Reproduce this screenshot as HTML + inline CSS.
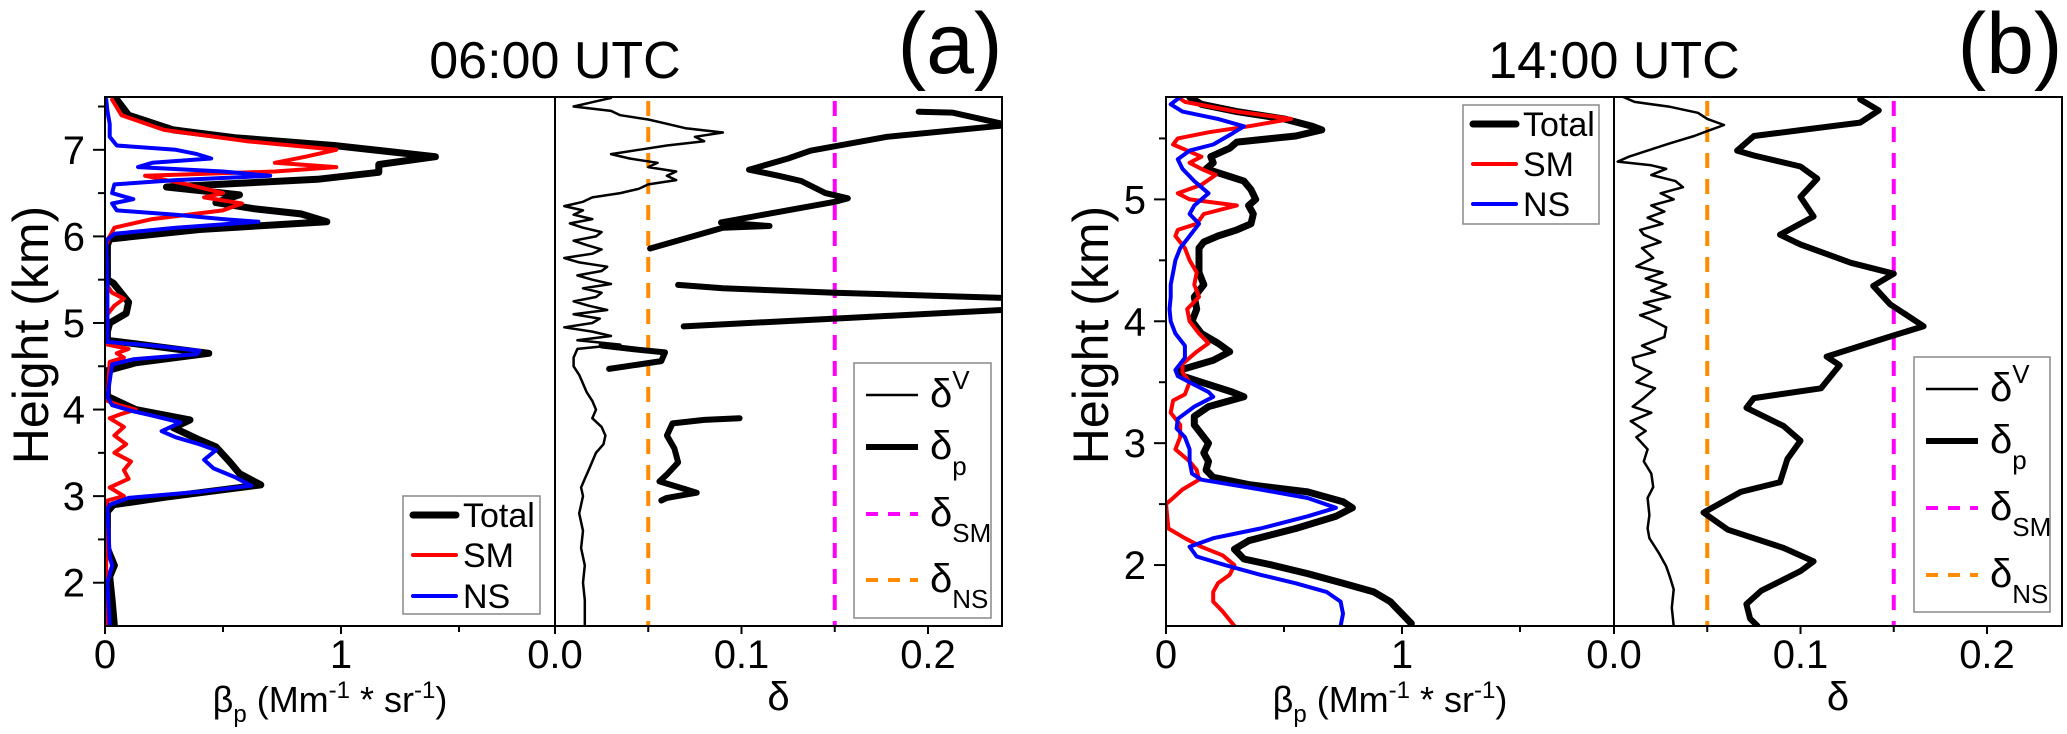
<!DOCTYPE html>
<html><head><meta charset="utf-8"><style>
html,body{margin:0;padding:0;background:#fff;}
svg{display:block;font-family:"Liberation Sans",Arial,sans-serif;}
</style></head><body>
<svg id="chart" width="2067" height="734" viewBox="0 0 2067 734" xmlns="http://www.w3.org/2000/svg"></svg>
<script>
// ---------- DATA (height km, value) ----------
const aTotalH=[7.58,7.4,7.23,7.14,7.05,6.92,6.83,6.74,6.66,6.57,6.48,6.39,6.32,6.26,6.17,6.08,5.97,5.9,5.7,5.5,5.46,5.24,5.11,5.0,4.9,4.8,4.76,4.65,4.54,4.45,4.3,4.15,4.14,4.0,3.88,3.79,3.65,3.57,3.39,3.26,3.13,2.99,2.9,2.82,2.6,2.4,2.33,2.2,2.07,1.8,1.5];
const aTotalV=[0.05,0.1,0.29,0.55,0.97,1.40,1.16,1.16,0.90,0.26,0.57,0.47,0.63,0.83,0.94,0.40,0.02,0.01,0.01,0.01,0.035,0.10,0.09,0.02,0.01,0.01,0.13,0.44,0.13,0.01,0.01,0.01,0.02,0.13,0.36,0.29,0.40,0.47,0.53,0.57,0.66,0.26,0.035,0.01,0.01,0.01,0.02,0.04,0.02,0.03,0.04];
const aSMH=[7.58,7.4,7.23,7.1,7.0,6.92,6.85,6.8,6.75,6.7,6.6,6.5,6.45,6.38,6.3,6.2,6.1,6.0,5.9,5.45,5.35,5.28,5.2,5.1,4.75,4.7,4.65,4.6,4.55,4.1,4.05,4.0,3.95,3.9,3.8,3.7,3.6,3.5,3.4,3.3,3.2,3.1,3.0,2.95,2.2,1.5];
const aSMV=[0.03,0.07,0.25,0.6,0.98,0.85,0.72,0.98,0.72,0.17,0.35,0.5,0.42,0.58,0.5,0.2,0.04,0.02,0.005,0.005,0.03,0.08,0.04,0.01,0.01,0.1,0.05,0.08,0.02,0.01,0.06,0.13,0.07,0.02,0.08,0.04,0.09,0.04,0.11,0.08,0.10,0.02,0.08,0.01,0.005,0.005];
const aNSH=[7.58,7.45,7.3,7.15,7.05,7.0,6.95,6.9,6.85,6.8,6.75,6.7,6.65,6.6,6.5,6.43,6.38,6.3,6.25,6.2,6.17,6.1,6.03,5.95,5.45,4.78,4.74,4.68,4.64,4.58,4.52,4.15,4.05,3.98,3.93,3.85,3.75,3.68,3.6,3.53,3.42,3.32,3.22,3.12,3.05,2.98,2.9,2.85,2.3,2.2,2.0,1.5];
const aNSV=[0.005,0.01,0.02,0.02,0.05,0.3,0.39,0.45,0.2,0.14,0.5,0.7,0.3,0.04,0.03,0.12,0.03,0.05,0.3,0.5,0.65,0.3,0.04,0.005,0.01,0.01,0.2,0.4,0.39,0.12,0.03,0.01,0.03,0.12,0.2,0.32,0.24,0.3,0.4,0.47,0.42,0.46,0.55,0.62,0.4,0.1,0.02,0.01,0.02,0.03,0.01,0.02];
const aDVH=[7.6,7.55,7.5,7.45,7.4,7.35,7.3,7.25,7.2,7.15,7.1,7.05,7.0,6.95,6.9,6.85,6.8,6.75,6.7,6.65,6.6,6.55,6.5,6.45,6.4,6.35,6.3,6.25,6.2,6.15,6.1,6.05,6.0,5.95,5.9,5.85,5.8,5.75,5.7,5.65,5.6,5.55,5.5,5.45,5.4,5.35,5.3,5.25,5.2,5.15,5.1,5.05,5.0,4.95,4.9,4.85,4.8,4.75,4.7,4.6,4.5,4.4,4.3,4.2,4.1,4.0,3.9,3.8,3.7,3.6,3.5,3.4,3.3,3.2,3.1,3.0,2.8,2.6,2.4,2.2,2.0,1.8,1.5];
const aDVV=[0.03,0.02,0.01,0.03,0.035,0.05,0.06,0.07,0.09,0.075,0.08,0.06,0.045,0.03,0.04,0.055,0.05,0.065,0.06,0.065,0.05,0.045,0.035,0.02,0.015,0.005,0.015,0.01,0.02,0.008,0.015,0.025,0.022,0.01,0.017,0.025,0.02,0.005,0.013,0.028,0.025,0.012,0.02,0.03,0.015,0.025,0.022,0.01,0.018,0.028,0.01,0.024,0.02,0.005,0.02,0.03,0.012,0.035,0.012,0.01,0.01,0.013,0.015,0.017,0.02,0.022,0.02,0.025,0.027,0.026,0.022,0.02,0.018,0.016,0.014,0.015,0.013,0.015,0.014,0.016,0.015,0.016,0.016];
const aDP1H=[7.44,7.43,7.3,7.28,7.15,6.99,6.9,6.77,6.7,6.64,6.5,6.44,6.40,6.26,6.16,6.12,6.1,5.86];
const aDP1V=[0.195,0.213,0.24,0.24,0.178,0.137,0.125,0.104,0.12,0.132,0.145,0.157,0.15,0.114,0.089,0.115,0.09,0.051];
const aDP2H=[5.44,5.40,5.35,5.29];
const aDP2V=[0.066,0.09,0.15,0.24];
const aDP3H=[5.15,5.05,4.96];
const aDP3V=[0.24,0.15,0.069];
const aDP4H=[4.47,4.56,4.66,4.69,4.74];
const aDP4V=[0.029,0.057,0.059,0.045,0.025];
const aDP5H=[3.90,3.88,3.84,3.70,3.55,3.39,3.25,3.17,3.08,3.04,2.98,2.95];
const aDP5V=[0.099,0.08,0.063,0.060,0.064,0.066,0.06,0.056,0.07,0.076,0.06,0.057];

const bTotalH=[5.84,5.78,5.72,5.66,5.6,5.57,5.52,5.47,5.42,5.35,5.3,5.25,5.2,5.15,5.08,5.0,4.95,4.88,4.8,4.75,4.7,4.65,4.6,4.5,4.4,4.3,4.2,4.1,4.0,3.9,3.82,3.75,3.68,3.6,3.55,3.5,3.42,3.38,3.3,3.22,3.15,3.05,3.0,2.92,2.85,2.78,2.72,2.66,2.6,2.52,2.47,2.4,2.3,2.2,2.13,2.05,2.0,1.93,1.85,1.78,1.7,1.6,1.52];
const bTotalV=[0.1,0.15,0.3,0.5,0.62,0.66,0.55,0.3,0.27,0.19,0.2,0.17,0.25,0.33,0.36,0.38,0.35,0.37,0.36,0.3,0.22,0.16,0.14,0.14,0.14,0.16,0.12,0.13,0.11,0.15,0.22,0.27,0.2,0.06,0.07,0.15,0.28,0.33,0.18,0.12,0.12,0.16,0.18,0.16,0.18,0.17,0.2,0.35,0.6,0.75,0.79,0.72,0.55,0.35,0.29,0.33,0.45,0.6,0.75,0.88,0.95,1.0,1.04];
const bSMH=[5.84,5.8,5.72,5.66,5.6,5.55,5.5,5.45,5.4,5.35,5.3,5.25,5.2,5.12,5.05,5.0,4.95,4.88,4.8,4.75,4.7,4.6,4.5,4.4,4.3,4.2,4.1,4.0,3.9,3.82,3.75,3.65,3.58,3.5,3.4,3.35,3.25,3.15,3.05,2.95,2.85,2.78,2.7,2.62,2.55,2.5,2.4,2.3,2.22,2.15,2.08,2.0,1.92,1.85,1.78,1.7,1.62,1.5];
const bSMV=[0.05,0.08,0.3,0.53,0.35,0.18,0.05,0.03,0.09,0.15,0.1,0.15,0.21,0.15,0.05,0.1,0.3,0.16,0.13,0.05,0.04,0.08,0.1,0.13,0.12,0.14,0.09,0.1,0.14,0.18,0.13,0.07,0.07,0.1,0.08,0.03,0.02,0.06,0.06,0.04,0.1,0.13,0.14,0.07,0.03,0.0,0.005,0.01,0.08,0.15,0.24,0.29,0.27,0.22,0.2,0.2,0.24,0.29];
const bNSH=[5.84,5.78,5.72,5.66,5.6,5.54,5.45,5.4,5.33,5.25,5.15,5.05,4.95,4.88,4.8,4.7,4.6,4.5,4.4,4.3,4.2,4.1,4.0,3.9,3.8,3.7,3.6,3.55,3.48,3.42,3.38,3.3,3.2,3.12,3.05,2.95,2.85,2.75,2.7,2.62,2.55,2.47,2.4,2.3,2.22,2.15,2.07,2.0,1.92,1.85,1.78,1.7,1.6,1.5];
const bNSV=[0.06,0.02,0.07,0.22,0.33,0.28,0.2,0.1,0.05,0.07,0.12,0.18,0.12,0.1,0.14,0.1,0.06,0.04,0.03,0.02,0.02,0.015,0.02,0.04,0.08,0.08,0.04,0.05,0.12,0.18,0.2,0.12,0.05,0.045,0.08,0.1,0.1,0.11,0.15,0.4,0.6,0.72,0.6,0.4,0.2,0.1,0.13,0.25,0.4,0.55,0.68,0.74,0.75,0.74];
const bDVH=[5.84,5.8,5.76,5.71,5.66,5.61,5.56,5.52,5.46,5.40,5.35,5.31,5.28,5.25,5.2,5.15,5.10,5.05,5.0,4.95,4.9,4.85,4.8,4.75,4.71,4.65,4.6,4.52,4.45,4.4,4.35,4.3,4.25,4.2,4.15,4.1,4.05,4.02,3.95,3.87,3.8,3.75,3.7,3.64,3.58,3.5,3.45,3.37,3.3,3.25,3.18,3.1,3.05,2.95,2.85,2.75,2.64,2.55,2.41,2.3,2.22,2.1,1.99,1.9,1.8,1.65,1.5];
const bDVV=[0.005,0.011,0.03,0.045,0.05,0.059,0.05,0.043,0.03,0.018,0.008,0.002,0.02,0.028,0.02,0.033,0.037,0.025,0.032,0.02,0.027,0.018,0.026,0.014,0.016,0.025,0.015,0.021,0.012,0.026,0.017,0.028,0.02,0.03,0.016,0.025,0.014,0.019,0.028,0.027,0.015,0.022,0.01,0.011,0.02,0.012,0.022,0.016,0.01,0.02,0.009,0.017,0.012,0.018,0.016,0.02,0.021,0.018,0.019,0.018,0.019,0.024,0.028,0.03,0.032,0.031,0.032];
const bDPH=[5.82,5.73,5.63,5.52,5.40,5.36,5.27,5.17,5.02,4.86,4.71,4.63,4.48,4.39,4.29,4.14,3.96,3.87,3.71,3.64,3.45,3.37,3.29,3.14,3.02,2.87,2.68,2.60,2.43,2.29,2.14,2.03,1.95,1.79,1.68,1.56,1.5];
const bDPV=[0.132,0.142,0.132,0.075,0.066,0.075,0.1,0.109,0.1,0.107,0.089,0.1,0.127,0.150,0.139,0.148,0.166,0.147,0.114,0.121,0.111,0.075,0.071,0.091,0.1,0.093,0.089,0.068,0.048,0.061,0.091,0.107,0.1,0.079,0.071,0.073,0.077];

const refSM=0.15, refNS=0.05;
const betaTicks=[0,1], betaMinor=[0.5,1.5];
const deltaTicks=[0,0.1,0.2], deltaTickLabels=["0.0","0.1","0.2"], deltaMinor=[0.05,0.15];
const aHTicks=[2,3,4,5,6,7], aHMinor=[2.5,3.5,4.5,5.5,6.5,7.5];
const bHTicks=[2,3,4,5], bHMinor=[2.5,3.5,4.5,5.5];

// ---------- helpers ----------
const NS="http://www.w3.org/2000/svg";
const svg=document.getElementById('chart');
function mk(tag,attrs,parent,txt){const e=document.createElementNS(NS,tag);for(const k in attrs)e.setAttribute(k,attrs[k]);if(txt!==undefined)e.textContent=txt;(parent||svg).appendChild(e);return e;}
function lin(d0,d1,r0,r1){return v=>r0+(v-d0)/(d1-d0)*(r1-r0);}
const TOP=97,BOT=626;

function drawPanel(p){
  const g=mk('g',{});
  
  
  const y=lin(p.hMin,p.hMax,BOT,TOP);
  const xb=lin(0,1,p.x0,p.x0+236);
  const xd=lin(0,0.1,p.xd0,p.xd0+186.5);
  // clip paths
  const defs=mk('defs',{},g);
  const c1=mk('clipPath',{id:p.id+'c1'},defs); mk('rect',{x:p.x0,y:TOP,width:p.xd0-p.x0,height:BOT-TOP},c1);
  const c2=mk('clipPath',{id:p.id+'c2'},defs); mk('rect',{x:p.xd0,y:TOP,width:p.xEnd-p.xd0,height:BOT-TOP},c2);
  function line(H,V,xs,color,w,name,clip){
    const d=H.map((h,i)=>(i?'L':'M')+xs(V[i]).toFixed(1)+','+y(h).toFixed(1)).join('');
    const pth=mk('path',{d:d,fill:'none',stroke:color,'stroke-width':w,'stroke-linejoin':'round','stroke-linecap':'round','clip-path':'url(#'+clip+')'},g);
    
    
  }
  // beta series
  line(p.tot[0],p.tot[1],xb,'#000',7,'total-backscatter-line',p.id+'c1');
  line(p.sm[0],p.sm[1],xb,'#ff0000',4,'sm-backscatter-line',p.id+'c1');
  line(p.ns[0],p.ns[1],xb,'#0000ff',4,'ns-backscatter-line',p.id+'c1');
  // reference dashed lines
  [[refNS,'#ff8c00','delta-ns-reference-line'],[refSM,'#ff00ff','delta-sm-reference-line']].forEach(r=>{
    const l=mk('line',{x1:xd(r[0]),x2:xd(r[0]),y1:TOP+4,y2:BOT,stroke:r[1],'stroke-width':4,'stroke-dasharray':'15,11'},g);
    
    
  });
  line(p.dv[0],p.dv[1],xd,'#000',2.5,'volume-depolarization-line',p.id+'c2');
  p.dp.forEach(s=>line(s[0],s[1],xd,'#000',6,'particle-depolarization-line',p.id+'c2'));
  // frame
  const fr=mk('rect',{x:p.x0,y:TOP,width:p.xEnd-p.x0,height:BOT-TOP,fill:'none',stroke:'#000','stroke-width':2},g);
  
  
  mk('line',{x1:p.xd0,x2:p.xd0,y1:TOP,y2:BOT,stroke:'#000','stroke-width':2},g);
  // y ticks
  p.hTicks.forEach(h=>{
    mk('line',{x1:p.x0-12,x2:p.x0,y1:y(h),y2:y(h),stroke:'#000','stroke-width':2},g);
    const t=mk('text',{x:p.x0-20,y:y(h)+14,'font-size':40,'text-anchor':'end'},g,String(h));
    
    
  });
  p.hMinor.forEach(h=>{ if(h<=p.hMax) mk('line',{x1:p.x0-7,x2:p.x0,y1:y(h),y2:y(h),stroke:'#000','stroke-width':2},g);});
  // x ticks beta
  betaTicks.forEach(v=>{
    mk('line',{x1:xb(v),x2:xb(v),y1:BOT,y2:BOT+8,stroke:'#000','stroke-width':2},g);
    const t=mk('text',{x:xb(v),y:668,'font-size':40,'text-anchor':'middle'},g,String(v));
    
    
  });
  betaMinor.forEach(v=>mk('line',{x1:xb(v),x2:xb(v),y1:BOT,y2:BOT+6,stroke:'#000','stroke-width':2},g));
  deltaTicks.forEach((v,i)=>{
    mk('line',{x1:xd(v),x2:xd(v),y1:BOT,y2:BOT+8,stroke:'#000','stroke-width':2},g);
    const t=mk('text',{x:xd(v),y:668,'font-size':40,'text-anchor':'middle'},g,deltaTickLabels[i]);
    
    
  });
  deltaMinor.forEach(v=>mk('line',{x1:xd(v),x2:xd(v),y1:BOT,y2:BOT+6,stroke:'#000','stroke-width':2},g));
  // axis titles
  const yt=mk('text',{x:0,y:0,'font-size':50,'text-anchor':'middle',transform:'translate('+p.yTitleX+',335) rotate(-90)'},g,'Height (km)');
  
  
  const xt=mk('text',{x:(p.x0+p.xd0)/2,y:712,'font-size':36,'text-anchor':'middle'},g);
  
  
  xt.innerHTML='β<tspan font-size="24" dy="10">p</tspan><tspan dy="-10"> (Mm</tspan><tspan font-size="24" dy="-14">-1</tspan><tspan dy="14"> * sr</tspan><tspan font-size="24" dy="-14">-1</tspan><tspan dy="14">)</tspan>';
  const dt=mk('text',{x:(p.xd0+p.xEnd)/2,y:710,'font-size':40,'text-anchor':'middle'},g,'δ');
  
  
  // titles
  const tt=mk('text',{x:p.xd0,y:78,'font-size':52,'text-anchor':'middle'},g,p.title);
  
  
  const lt=mk('text',{x:p.letterX,y:73,'font-size':86,'text-anchor':'middle'},g,p.letter);
  
  
  // legend beta
  const L=p.leg1;
  const lg=mk('g',{},g);
  
  
  mk('rect',{x:L.x,y:L.y,width:L.w,height:L.h,fill:'#fff',stroke:'#888','stroke-width':1.5},lg);
  [['Total','#000',7],['SM','#ff0000',4],['NS','#0000ff',4]].forEach((e,i)=>{
    const yy=L.y+L.e[i];
    const le=mk('g',{},lg);
    
    
    mk('line',{x1:L.x+10,x2:L.x+53,y1:yy,y2:yy,stroke:e[1],'stroke-width':e[2],'stroke-linecap':'round'},le);
    mk('text',{x:L.x+60,y:yy+12,'font-size':34},le,e[0]);
  });
  // legend delta
  const M=p.leg2;
  const mg=mk('g',{},g);
  
  
  mk('rect',{x:M.x,y:M.y,width:M.w,height:M.h,fill:'#fff',stroke:'#888','stroke-width':1.5},mg);
  const ents=[['V','#000',2.5,null,true],['p','#000',6,null,false],['SM','#ff00ff',4,'12,10',false],['NS','#ff8c00',4,'12,10',false]];
  ents.forEach((e,i)=>{
    const yy=M.y+M.e[i];
    const le=mk('g',{},mg);
    
    
    const a={x1:M.x+12,x2:M.x+64,y1:yy,y2:yy,stroke:e[1],'stroke-width':e[2]};
    if(e[3])a['stroke-dasharray']=e[3];
    mk('line',a,le);
    const t=mk('text',{x:M.x+76,y:yy+12,'font-size':40},le);
    t.innerHTML='δ<tspan font-size="26" dy="'+(e[4]?-18:16)+'">'+e[0]+'</tspan>';
  });
}

drawPanel({id:'a',title:'06:00 UTC',letter:'(a)',letterX:950,hMin:1.5,hMax:7.61,x0:105,xd0:555,xEnd:1002,yTitleX:48,
  hTicks:aHTicks,hMinor:aHMinor,
  tot:[aTotalH,aTotalV],sm:[aSMH,aSMV],ns:[aNSH,aNSV],dv:[aDVH,aDVV],
  dp:[[aDP1H,aDP1V],[aDP2H,aDP2V],[aDP3H,aDP3V],[aDP4H,aDP4V],[aDP5H,aDP5V]],
  leg1:{x:403,y:496,w:137,h:118,e:[19,59,100]},
  leg2:{x:854,y:363,w:137,h:255,e:[32,84,151,217]}});
drawPanel({id:'b',title:'14:00 UTC',letter:'(b)',letterX:2010,hMin:1.5,hMax:5.84,x0:1166,xd0:1614,xEnd:2062,yTitleX:1108,
  hTicks:bHTicks,hMinor:bHMinor,
  tot:[bTotalH,bTotalV],sm:[bSMH,bSMV],ns:[bNSH,bNSV],dv:[bDVH,bDVV],
  dp:[[bDPH,bDPV]],
  leg1:{x:1463,y:105,w:136,h:119,e:[19,59,99]},
  leg2:{x:1914,y:357,w:136,h:255,e:[32,84,151,218]}});
</script>
</body></html>
